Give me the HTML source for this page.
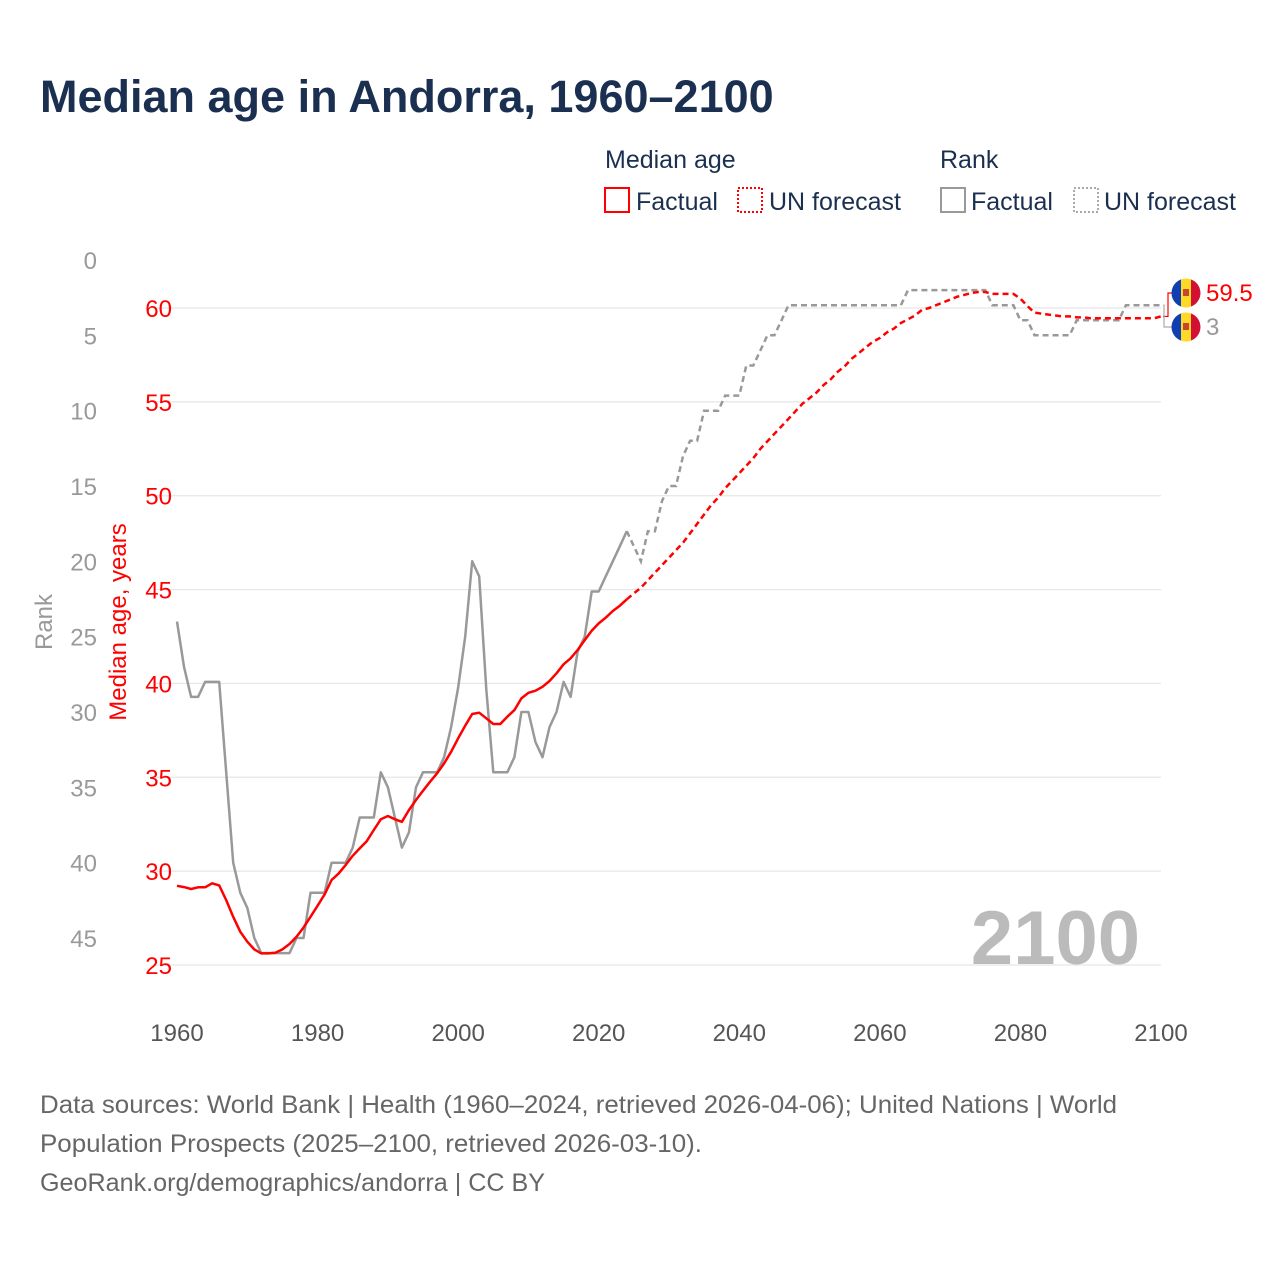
<!DOCTYPE html>
<html><head><meta charset="utf-8">
<style>
html,body{margin:0;padding:0;background:#fff;}
svg{display:block;font-family:"Liberation Sans",sans-serif;}
</style></head>
<body>
<svg id="chart" width="1280" height="1280" viewBox="0 0 1280 1280">
  <text x="40" y="112" font-size="45" font-weight="bold" fill="#1b3050">Median age in Andorra, 1960–2100</text>
  <g font-size="25" fill="#1b3050">
    <text x="605" y="168">Median age</text>
    <text x="940" y="168">Rank</text>
    <g>
      <rect x="605" y="188" width="24" height="24" fill="none" stroke="#f00" stroke-width="2"/>
      <text x="636" y="210">Factual</text>
    </g>
    <g>
      <rect x="738" y="188" width="24" height="24" fill="none" stroke="#f00" stroke-width="2" stroke-dasharray="2,2"/>
      <text x="769" y="210">UN forecast</text>
    </g>
    <g>
      <rect x="941" y="188" width="24" height="24" fill="none" stroke="#999" stroke-width="2"/>
      <text x="971" y="210">Factual</text>
    </g>
    <g>
      <rect x="1074" y="188" width="24" height="24" fill="none" stroke="#aaa" stroke-width="2" stroke-dasharray="2,2"/>
      <text x="1104" y="210">UN forecast</text>
    </g>
  </g>
  <g id="grid"></g>
  <g id="axes"></g>
  <text x="1140" y="964" font-size="76" font-weight="bold" fill="#bbb" text-anchor="end">2100</text>
  <g id="series"></g>
  <g id="endlabels"></g>
  <text x="52" y="622" font-size="24" fill="#999" text-anchor="middle" transform="rotate(-90 52 622)">Rank</text>
  <text x="126" y="622" font-size="24" fill="#f00" text-anchor="middle" transform="rotate(-90 126 622)">Median age, years</text>
  <g font-size="25" fill="#666">
    <text x="40" y="1113" textLength="1077" lengthAdjust="spacingAndGlyphs">Data sources: World Bank | Health (1960–2024, retrieved 2026-04-06); United Nations | World</text>
    <text x="40" y="1152" textLength="662" lengthAdjust="spacingAndGlyphs">Population Prospects (2025–2100, retrieved 2026-03-10).</text>
    <text x="40" y="1191" textLength="505" lengthAdjust="spacingAndGlyphs">GeoRank.org/demographics/andorra | CC BY</text>
  </g>
</svg>
<script>
const factualYears = [1960,1961,1962,1963,1964,1965,1966,1967,1968,1969,1970,1971,1972,1973,1974,1975,1976,1977,1978,1979,1980,1981,1982,1983,1984,1985,1986,1987,1988,1989,1990,1991,1992,1993,1994,1995,1996,1997,1998,1999,2000,2001,2002,2003,2004,2005,2006,2007,2008,2009,2010,2011,2012,2013,2014,2015,2016,2017,2018,2019,2020,2021,2022,2023,2024];
const medianFactual = [29.22,29.15,29.05,29.14,29.14,29.35,29.24,28.46,27.57,26.77,26.24,25.83,25.62,25.62,25.65,25.83,26.12,26.5,26.99,27.57,28.16,28.76,29.53,29.88,30.33,30.82,31.21,31.6,32.19,32.76,32.94,32.76,32.63,33.25,33.79,34.28,34.76,35.21,35.74,36.36,37.07,37.75,38.37,38.44,38.14,37.84,37.84,38.23,38.58,39.2,39.5,39.61,39.82,40.13,40.54,41.02,41.34,41.78,42.31,42.81,43.2,43.5,43.86,44.14,44.48];
const rankFactual = [24,27,29,29,28,28,28,34,40,42,43,45,46,46,46,46,46,45,45,42,42,42,40,40,40,39,37,37,37,34,35,37,39,38,35,34,34,34,33,31,28.4,25,20,21,28.5,34,34,34,33,30,30,32,33,31,30,28,29,26,25,22,22,21,20,19,18];
const forecastYears = [2024,2025,2026,2027,2028,2029,2030,2031,2032,2033,2034,2035,2036,2037,2038,2039,2040,2041,2042,2043,2044,2045,2046,2047,2048,2049,2050,2051,2052,2053,2054,2055,2056,2057,2058,2059,2060,2061,2062,2063,2064,2065,2066,2067,2068,2069,2070,2071,2072,2073,2074,2075,2076,2077,2078,2079,2080,2081,2082,2083,2084,2085,2086,2087,2088,2089,2090,2091,2092,2093,2094,2095,2096,2097,2098,2099,2100];
const medianForecast = [44.48,44.8,45.1,45.5,45.9,46.3,46.7,47.1,47.5,48.0,48.5,49.0,49.5,49.9,50.4,50.8,51.2,51.6,52.0,52.5,52.9,53.3,53.7,54.1,54.5,54.9,55.2,55.5,55.9,56.2,56.6,56.9,57.3,57.6,57.9,58.2,58.4,58.7,58.9,59.2,59.4,59.6,59.9,60.0,60.15,60.3,60.45,60.6,60.7,60.8,60.85,60.85,60.75,60.75,60.75,60.75,60.5,60.1,59.75,59.7,59.65,59.6,59.55,59.55,59.5,59.5,59.45,59.45,59.45,59.45,59.45,59.45,59.45,59.45,59.45,59.45,59.55];
const rankForecast = [18,19,20,18,18,16,15,15,13,12,12,10,10,10,9,9,9,7,7,6,5,5,4,3,3,3,3,3,3,3,3,3,3,3,3,3,3,3,3,3,2,2,2,2,2,2,2,2,2,2,2,2,3,3,3,3,4,4,5,5,5,5,5,5,4,4,4,4,4,4,4,3,3,3,3,3,3];
const xTicks = [1960,1980,2000,2020,2040,2060,2080,2100];
const ageTicks = [25,30,35,40,45,50,55,60];
const rankTicks = [0,5,10,15,20,25,30,35,40,45];
const endAgeLabel = "59.5";
const endRankLabel = "3";

const NS = "http://www.w3.org/2000/svg";
const xS = y => 177 + (y - 1960) * (1161 - 177) / 140;
const ageS = v => 308 + (60 - v) * (965 - 308) / 35;
const rankS = r => 260 + r * (938 - 260) / 45;
function mk(tag, attrs, parent){const e=document.createElementNS(NS,tag);for(const k in attrs)e.setAttribute(k,attrs[k]);parent.appendChild(e);return e;}
const grid=document.getElementById('grid'), axes=document.getElementById('axes'), series=document.getElementById('series'), endl=document.getElementById('endlabels');

ageTicks.forEach(v=>{
  const l=mk('line',{x1:155,x2:1161,y1:ageS(v),y2:ageS(v),stroke:'#e6e6e6','stroke-width':1.2},grid);
  
  
  const t=mk('text',{x:172,y:ageS(v)+9,'font-size':24,fill:'#f00','text-anchor':'end'},axes);
  t.textContent=v;
  
  
});
rankTicks.forEach(r=>{
  const t=mk('text',{x:97,y:rankS(r)+9,'font-size':24,fill:'#999','text-anchor':'end'},axes);
  t.textContent=r;
  
  
});
xTicks.forEach(y=>{
  const t=mk('text',{x:xS(y),y:1041,'font-size':24,fill:'#555','text-anchor':'middle'},axes);
  t.textContent=y;
  
  
});
function path(xs, vs, sc){return xs.map((y,i)=>(i?'L':'M')+xS(y).toFixed(1)+','+sc(vs[i]).toFixed(1)).join('');}
const rf=mk('path',{d:path(factualYears,rankFactual,rankS),fill:'none',stroke:'#999','stroke-width':2.5,'stroke-linejoin':'round'},series);


const rfc=mk('path',{d:path(forecastYears,rankForecast,rankS),fill:'none',stroke:'#999','stroke-width':2.5,'stroke-dasharray':'6,4'},series);


const mf=mk('path',{d:path(factualYears,medianFactual,ageS),fill:'none',stroke:'#f00','stroke-width':2.5,'stroke-linejoin':'round'},series);


const mfc=mk('path',{d:path(forecastYears,medianForecast,ageS),fill:'none',stroke:'#f00','stroke-width':2.5,'stroke-dasharray':'6,4'},series);



const lastAgeY = ageS(medianForecast[medianForecast.length-1]);
const lastRankY = rankS(rankForecast[rankForecast.length-1]);
const b1=mk('path',{d:`M1163,${lastAgeY} H1168 V293 H1173`,fill:'none',stroke:'#f00','stroke-width':1.2},endl);


const b2=mk('path',{d:`M1163,${lastRankY} H1164 V327 H1173`,fill:'none',stroke:'#aaa','stroke-width':1.2},endl);


function flag(cy,name){
  const g=mk('g',{},endl);
  
  
  const id='clip'+Math.round(cy);
  const cp=mk('clipPath',{id:id},g); mk('circle',{cx:1186,cy:cy,r:14.5},cp);
  const inner=mk('g',{'clip-path':`url(#${id})`},g);
  mk('rect',{x:1171,y:cy-15,width:10,height:30,fill:'#1040b0'},inner);
  mk('rect',{x:1181,y:cy-15,width:10,height:30,fill:'#fed928'},inner);
  mk('rect',{x:1191,y:cy-15,width:10,height:30,fill:'#d21034'},inner);
  mk('rect',{x:1183,y:cy-4,width:6,height:7,fill:'#c7462f'},inner);
}
flag(293,'andorra-flag-age');
flag(327,'andorra-flag-rank');
const ta=mk('text',{x:1206,y:301,'font-size':24,fill:'#f00'},endl);
ta.textContent=endAgeLabel;


const tr=mk('text',{x:1206,y:335,'font-size':24,fill:'#999'},endl);
tr.textContent=endRankLabel;


</script>
</body></html>
